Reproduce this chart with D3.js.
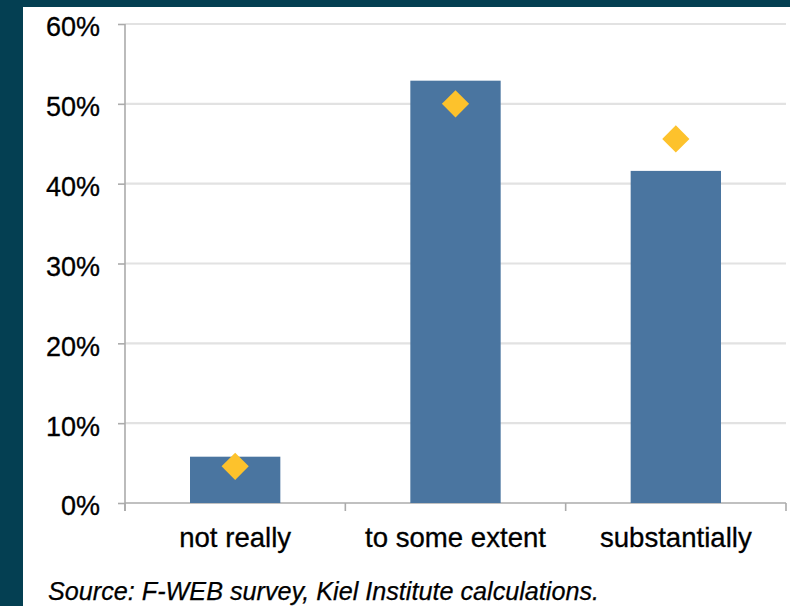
<!DOCTYPE html>
<html><head><meta charset="utf-8">
<script src="https://cdn.jsdelivr.net/npm/d3@7"></script>
<style>html,body{margin:0;padding:0;background:#043f52;}svg{display:block;}</style>
</head><body>
<svg id="c" width="790" height="606"></svg>
<script>
const categories = ["not really", "to some extent", "substantially"];
const barValues = [5.8, 52.9, 41.6];
const markerValues = [4.6, 50.0, 45.6];
const yTicks = [0, 10, 20, 30, 40, 50, 60];
const sourceText = "Source: F-WEB survey, Kiel Institute calculations.";

const svg = d3.select("#c");
svg.append("rect").attr("x", 0).attr("y", 0).attr("width", 790).attr("height", 606).attr("fill", "#043f52");
svg.append("rect").attr("x", 23).attr("y", 7).attr("width", 767).attr("height", 599).attr("fill", "#ffffff");

const x = d3.scaleBand().domain(categories).range([125, 786]).padding(0);
const y = d3.scaleLinear().domain([0, 60]).range([503, 24]);
const font = "'Liberation Sans', Arial, Helvetica, sans-serif";

// gridlines
svg.append("g").selectAll("line").data(yTicks.filter(d => d > 0)).join("line")
  .attr("x1", 125).attr("x2", 786)
  .attr("y1", d => y(d)).attr("y2", d => y(d))
  .attr("stroke", "#e2e2e2").attr("stroke-width", 2.2);

// y axis
const yAxis = d3.axisLeft(y).tickValues(yTicks).tickSize(7).tickPadding(18).tickFormat(d => d + "%");
const gy = svg.append("g").attr("transform", "translate(125,0)").call(yAxis);
gy.select(".domain").remove();
gy.append("line").attr("x1", 0).attr("x2", 0).attr("y1", y(60)).attr("y2", 511).attr("stroke", "#ababab").attr("stroke-width", 1.6);
gy.selectAll(".tick line").attr("stroke", "#ababab").attr("stroke-width", 1.6);
gy.selectAll(".tick text").attr("fill", "#000").attr("font-family", font).attr("font-size", 27)
  .attr("dy", "0.44em").attr("stroke", "#000").attr("stroke-width", 0.3);

// x axis
const gx = svg.append("g");
gx.append("line").attr("x1", 125).attr("x2", 786).attr("y1", y(0)).attr("y2", y(0)).attr("stroke", "#ababab").attr("stroke-width", 1.6);
const bounds = categories.map(c => x(c)).concat([x(categories[categories.length - 1]) + x.bandwidth()]);
gx.selectAll("line.t").data(bounds).join("line").attr("class", "t")
  .attr("x1", d => d).attr("x2", d => d).attr("y1", y(0)).attr("y2", 511)
  .attr("stroke", "#ababab").attr("stroke-width", 1.6);
gx.selectAll("text").data(categories).join("text")
  .attr("x", d => x(d) + x.bandwidth() / 2).attr("y", 547)
  .attr("text-anchor", "middle").attr("font-family", font).attr("font-size", 27.6).attr("fill", "#000")
  .attr("stroke", "#000").attr("stroke-width", 0.3)
  .text(d => d);

// bars
const bw = x.bandwidth() * 0.41;
svg.append("g").selectAll("rect").data(categories).join("rect")
  .attr("x", d => x(d) + (x.bandwidth() - bw) / 2)
  .attr("y", (d, i) => y(barValues[i]))
  .attr("width", bw)
  .attr("height", (d, i) => y(0) - y(barValues[i]))
  .attr("fill", "#4a75a0");

// diamonds
const sym = d3.symbol().type(d3.symbolSquare).size(370);
svg.append("g").selectAll("path").data(categories).join("path")
  .attr("d", sym)
  .attr("transform", (d, i) => `translate(${x(d) + x.bandwidth() / 2},${y(markerValues[i])}) rotate(45)`)
  .attr("fill", "#fdc22c");

// source
svg.append("text").attr("x", 48).attr("y", 600)
  .attr("font-family", font).attr("font-style", "italic").attr("font-size", 25.2).attr("fill", "#000")
  .attr("stroke", "#000").attr("stroke-width", 0.25)
  .text(sourceText);
</script>
</body></html>
